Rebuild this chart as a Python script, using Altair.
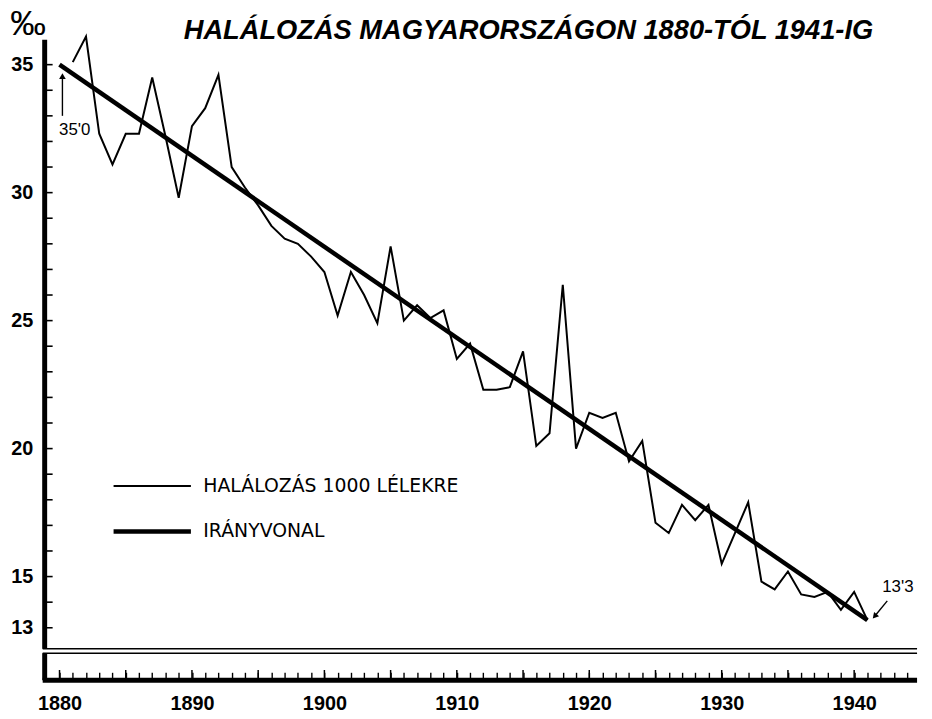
import altair as alt
import pandas as pd

# ---- data ----
years = list(range(1881, 1942))
death_rate = [35.1, 36.1, 32.3, 31.1, 32.3, 32.3, 34.5, 32.2, 29.8, 32.6,
              33.3, 34.6, 31.0, 30.2, 29.5, 28.7, 28.2, 28.0, 27.5, 26.9,
              25.2, 26.9, 26.0, 24.9, 27.9, 25.0, 25.6, 25.1, 25.4, 23.5,
              24.1, 22.3, 22.3, 22.4, 23.8, 20.1, 20.6, 26.4, 20.0, 21.4,
              21.2, 21.4, 19.5, 20.3, 17.1, 16.7, 17.8, 17.2, 17.8, 15.5,
              16.7, 17.9, 14.8, 14.5, 15.2, 14.3, 14.2, 14.4, 13.7, 14.4, 13.3]
trend_years = [1880, 1941]
trend_values = [35.0, 13.3]
series_names = ["HALÁLOZÁS 1000 LÉLEKRE", "IRÁNYVONAL"]
x_labels = [1880, 1890, 1900, 1910, 1920, 1930, 1940]
y_labels = [13, 15, 20, 25, 30, 35]
y_ticks = list(range(13, 36))
x_ticks = list(range(1880, 1945))
ann_text = ["35'0", "13'3"]
title_text = "HALÁLOZÁS MAGYARORSZÁGON 1880-TÓL 1941-IG"

# ---- scale frame ----
X0, X1 = 1878.88, 1944.75
Y0, Y1 = 10.95, 35.97
BREAK_LO, BREAK_HI = 12.0, 12.18

df = pd.concat([
    pd.DataFrame({"year": years, "value": death_rate, "series": series_names[0]}),
    pd.DataFrame({"year": trend_years, "value": trend_values, "series": series_names[1]}),
])

xs = alt.Scale(domain=[X0, X1], nice=False, zero=False)
ys = alt.Scale(domain=[Y0, Y1], nice=False, zero=False)

FONT = "Liberation Sans"

# x axis: a tick every year pointing up into the plot, labels every decade
x_axis = alt.Axis(
    values=x_ticks, format="d",
    labelExpr="datum.value % 10 === 0 ? datum.label : ''",
    ticks=True, tickSize=8, tickWidth=1.4, tickColor="black", offset=-8,
    domain=False, grid=False, zindex=1,
    labelFont=FONT, labelFontSize=20, labelFontWeight="bold", labelOverlap=False,
    labelColor="black", labelPadding=14, title=None)
y_axis = alt.Axis(
    values=y_labels, format="d", ticks=False, domain=False, grid=False,
    labelFont=FONT, labelFontSize=20, labelFontWeight="bold", labelOverlap=False,
    labelColor="black", labelPadding=12, title=None)


def X(field):
    return alt.X(field, type="quantitative", scale=xs, axis=x_axis)


def Y(field):
    return alt.Y(field, type="quantitative", scale=ys, axis=y_axis)


def XD(v):
    return alt.XDatum(v, scale=xs, axis=x_axis)


def YD(v):
    return alt.YDatum(v, scale=ys, axis=y_axis)


legend = alt.Legend(
    orient="none", legendX=67, legendY=430, title=None,
    symbolType="stroke", symbolSize=6084, clipHeight=40, rowPadding=6,
    labelOffset=10, labelFont="DejaVu Sans", labelFontSize=19,
    labelColor="black", padding=0, labelLimit=0,
)

lines = alt.Chart(df).mark_line(strokeJoin="miter", strokeCap="butt").encode(
    x=X("year"), y=Y("value"),
    color=alt.Color("series:N", scale=alt.Scale(domain=series_names, range=["black", "black"]), legend=legend),
    strokeWidth=alt.StrokeWidth("series:O", scale=alt.Scale(domain=series_names, range=[2, 4.5]), legend=legend),
)

# axis frame
y_line = alt.Chart().mark_rule(color="black", strokeWidth=5).encode(
    x=XD(X0), y=YD(Y0), y2=alt.datum(Y1))
x_line = alt.Chart().mark_rule(color="black", strokeWidth=5).encode(
    y=YD(Y0), x=XD(X0 - 0.15), x2=alt.datum(X1))

# longer ticks every 5 years
xt = pd.DataFrame({"tyear": [y for y in x_ticks if y % 5 == 0]})
xt["thigh"] = Y0 + 0.40
x_tick_marks = alt.Chart(xt).mark_rule(color="black", strokeWidth=1.5).encode(
    x=X("tyear"), y=Y("thigh"), y2=alt.datum(Y0))

# y ticks (every unit), pointing right into the plot
yt = pd.DataFrame({"val": y_ticks})
yt["left"] = X0
yt["right"] = X0 + 0.6
y_tick_marks = alt.Chart(yt).mark_rule(color="black", strokeWidth=1.6).encode(
    y=Y("val"), x=X("left"), x2="right:Q")

# axis break
break_band = alt.Chart().mark_rect(color="white").encode(
    x=XD(X0 - 0.4), x2=alt.datum(X1),
    y=YD(BREAK_LO), y2=alt.datum(BREAK_HI))
break_df = pd.DataFrame({"lvl": [BREAK_LO, BREAK_HI]})
break_lines = alt.Chart(break_df).mark_rule(color="black", strokeWidth=1.5).encode(
    y=Y("lvl"), x=XD(X0 - 0.15), x2=alt.datum(X1))

# per-mille sign
permille = alt.Chart().mark_text(text="‰", font=FONT, fontSize=36, align="left",
                                 baseline="alphabetic", color="black").encode(
    x=XD(X0 - 2.6), y=YD(Y1 + 0.2))

# annotations
ann_df = pd.DataFrame({"text": ann_text, "x": [1881.15, 1943.3], "y": [32.45, 14.6]})
ann = alt.Chart(ann_df).mark_text(font=FONT, fontSize=17, color="black").encode(
    x=X("x"), y=Y("y"), text="text:N")
arrow_df = pd.DataFrame({"x": [1880.22, 1942.5], "y": [33.0, 14.05],
                         "x2": [1880.22, 1941.55], "y2": [34.55, 13.45],
                         "angle": [0, 221]})
arrows = alt.Chart(arrow_df).mark_rule(color="black", strokeWidth=1.4).encode(
    x=X("x"), y=Y("y"), x2="x2:Q", y2="y2:Q")
heads = alt.Chart(arrow_df).mark_point(shape="triangle-up", filled=True, size=45,
                                       color="black", opacity=1).encode(
    x=X("x2"), y=Y("y2"),
    angle=alt.Angle("angle:Q", scale=None))

chart = alt.layer(
    lines, y_tick_marks, y_line, break_band, break_lines,
    permille, ann, arrows, heads, x_line, x_tick_marks,
).properties(
    width=880, height=646,
    autosize=alt.AutoSizeParams(type="none"),
    padding={"left": 37, "top": 29, "right": 7, "bottom": 36},
    title=alt.TitleParams(
        text=title_text, font=FONT, fontSize=27.5, fontWeight="bold",
        fontStyle="italic", anchor="start", dx=175, dy=61, offset=0,
        baseline="alphabetic", color="black"),
    background="white",
).configure_view(stroke=None)

chart.save("out.html", embed_options={"renderer": "svg", "actions": False})
